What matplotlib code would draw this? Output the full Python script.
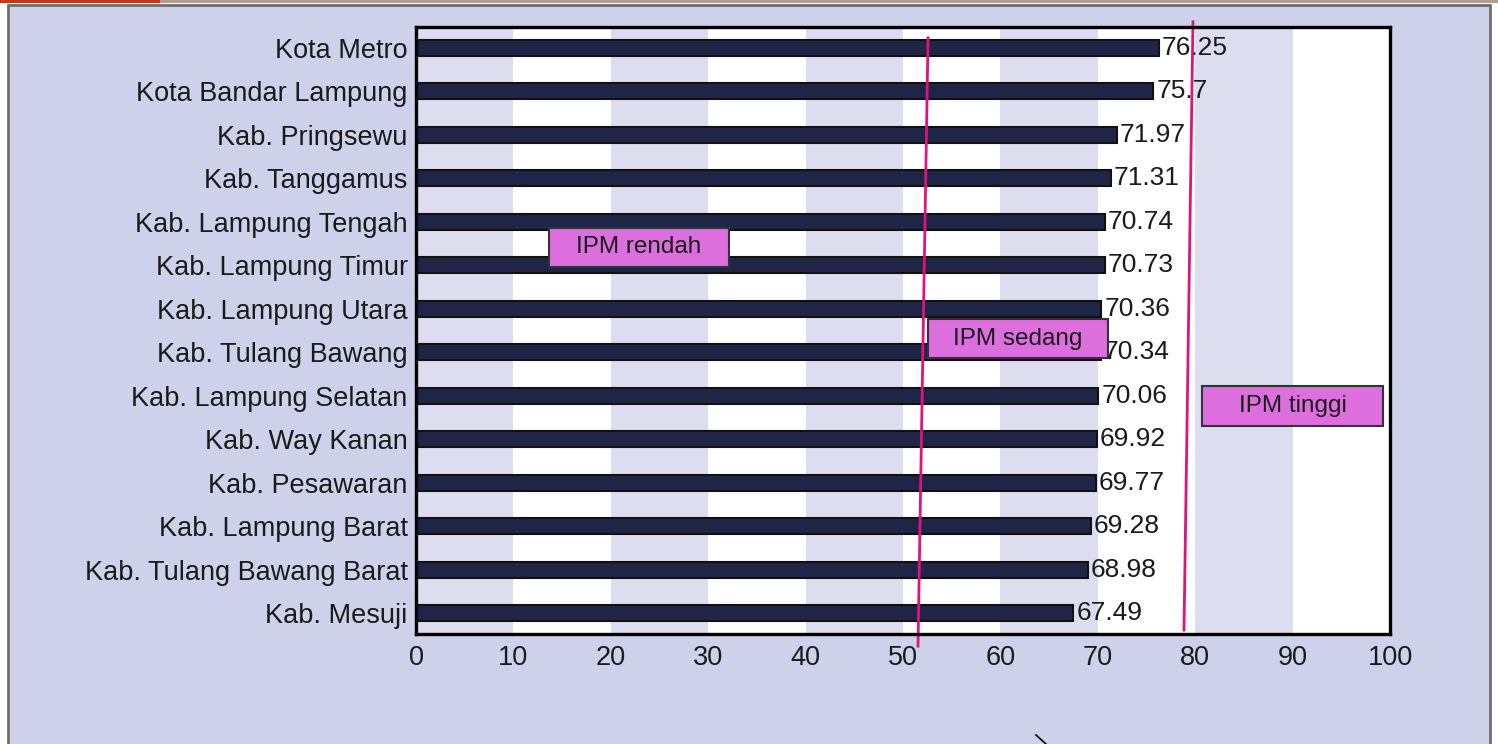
import matplotlib
matplotlib.use("Agg")
import matplotlib.pyplot as plt
from matplotlib.patches import Rectangle
from matplotlib.lines import Line2D

plt.rcParams['font.family'] = ['Liberation Sans', 'DejaVu Sans']

regions = ["Kota Metro", "Kota Bandar Lampung", "Kab. Pringsewu", "Kab. Tanggamus",
           "Kab. Lampung Tengah", "Kab. Lampung Timur", "Kab. Lampung Utara",
           "Kab. Tulang Bawang", "Kab. Lampung Selatan", "Kab. Way Kanan",
           "Kab. Pesawaran", "Kab. Lampung Barat", "Kab. Tulang Bawang Barat",
           "Kab. Mesuji"]
ipm = [76.25, 75.7, 71.97, 71.31, 70.74, 70.73, 70.36, 70.34, 70.06, 69.92,
       69.77, 69.28, 68.98, 67.49]
value_labels = ["76.25", "75.7", "71.97", "71.31", "70.74", "70.73", "70.36",
                "70.34", "70.06", "69.92", "69.77", "69.28", "68.98", "67.49"]
xticks = [0, 10, 20, 30, 40, 50, 60, 70, 80, 90, 100]
category_labels = ["IPM rendah", "IPM sedang", "IPM tinggi"]

BG = "#cdd1ea"
BAND = "#dcdef0"
BAR = "#1f2547"
PINK = "#e0127c"
BOX = "#dd6edd"
TXT = "#1a1a1a"

fig = plt.figure(figsize=(14.98, 7.44), dpi=100)
fig.patch.set_facecolor("white")

# outer frame
fig.patches.append(Rectangle((8/1498, -0.01), (1490-8)/1498, (744-5)/744 + 0.01,
                             transform=fig.transFigure, facecolor=BG,
                             edgecolor="#6e6e6e", linewidth=2, zorder=-3))
fig.patches.append(Rectangle((0, 1-3/744), 1, 3/744, transform=fig.transFigure,
                             facecolor="#b89a90", edgecolor="none", zorder=-2))
fig.patches.append(Rectangle((0, 1-3/744), 160/1498, 3/744, transform=fig.transFigure,
                             facecolor="#c8361e", edgecolor="none", zorder=-1))
fig.lines.append(Line2D([1036/1498, 1046/1498], [1-735/744, 1-744/744],
                        transform=fig.transFigure, color="black", linewidth=1.2, zorder=-1))

ax = fig.add_axes([416/1498, 1-634/744, (1390-416)/1498, (634-27)/744])
ax.set_zorder(1)
ax.set_facecolor("white")
ax.set_xlim(0, 100)
ax.set_ylim(-0.48, len(regions) - 1 + 0.48)

# alternating bands
for i, x0 in enumerate(xticks[:-1]):
    if i % 2 == 0:
        ax.axvspan(x0, x0 + 10, color=BAND, zorder=0, linewidth=0)

ypos = list(range(len(regions) - 1, -1, -1))
ax.barh(ypos, ipm, height=0.37, color=BAR, edgecolor="#111111", linewidth=1.5, zorder=2)
for y, v, lab in zip(ypos, ipm, value_labels):
    ax.text(v + 0.3, y, lab, va="center", ha="left", fontsize=19, color=TXT, zorder=3)

ax.set_yticks(ypos)
ax.set_yticklabels(regions, fontsize=19.5, color=TXT)
ax.set_xticks(xticks)
ax.set_xticklabels([str(t) for t in xticks], fontsize=19.5, color=TXT)
ax.tick_params(axis="both", length=0)
ax.tick_params(axis="y", pad=6)
ax.tick_params(axis="x", pad=8)
for s in ax.spines.values():
    s.set_linewidth(2.4)
    s.set_color("black")
    s.set_zorder(5)

# boundary lines (slightly slanted as in the original)
ax.plot([52.57, 51.54], [13.23, -0.76], color=PINK, linewidth=2, clip_on=False, zorder=4)
ax.plot([79.77, 78.85], [13.60, -0.39], color=PINK, linewidth=2, clip_on=False, zorder=4)

# category boxes
boxes = [(13.66, 7.96, 18.48, 0.90), (52.57, 5.87, 18.48, 0.89), (80.7, 4.30, 18.58, 0.92)]
for (x0, y0, w, h), lab in zip(boxes, category_labels):
    ax.add_patch(Rectangle((x0, y0), w, h, facecolor=BOX, edgecolor="#333333",
                           linewidth=1.5, zorder=6, clip_on=False))
    ax.text(x0 + w/2, y0 + h/2, lab, ha="center", va="center", fontsize=17.5,
            color=TXT, zorder=7)

fig.savefig("out.png", dpi=100, facecolor=fig.get_facecolor())
